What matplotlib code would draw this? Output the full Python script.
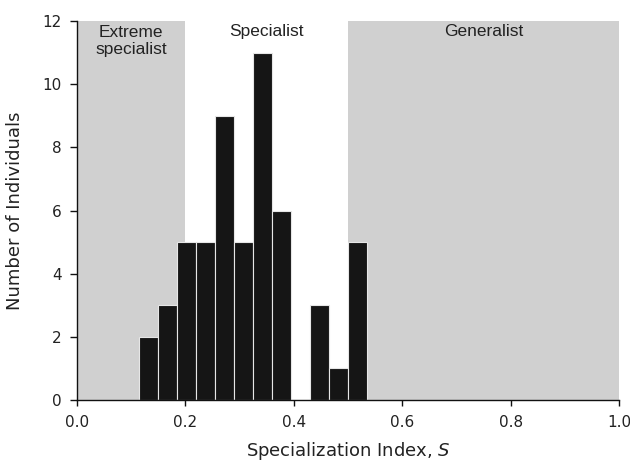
import matplotlib
matplotlib.use("Agg")
import matplotlib.pyplot as plt

# Data
bin_starts = [0.115, 0.150, 0.185, 0.220, 0.255, 0.290, 0.325, 0.360, 0.395, 0.430, 0.465, 0.500]
bin_width = 0.035
counts = [2, 3, 5, 5, 9, 5, 11, 6, 0, 3, 1, 5]
regions = [(0.0, 0.2), (0.5, 1.0)]
region_labels = ["Extreme\nspecialist", "Specialist", "Generalist"]
region_label_x = [0.10, 0.35, 0.75]
region_label_y = [11.38, 11.68, 11.68]
xticks = [0.0, 0.2, 0.4, 0.6, 0.8, 1.0]
yticks = [0, 2, 4, 6, 8, 10, 12]

fig = plt.figure(figsize=(6.3, 4.63), dpi=100)
ax = fig.add_axes([0.1222, 0.136, 0.8603, 0.8186])

for lo, hi in regions:
    ax.axvspan(lo, hi, ymin=0, ymax=1, color="#d0d0d0", lw=0, zorder=0)

ax.bar(bin_starts, counts, width=bin_width, align="edge", color="#151515",
       edgecolor="#e6e6e6", linewidth=0.8, zorder=2)

for lbl, x, y in zip(region_labels, region_label_x, region_label_y):
    ax.text(x, y, lbl, ha="center", va="center", fontsize=12.5,
            family="Liberation Sans", color="#222222", linespacing=1.15, zorder=3)

ax.set_xlim(0, 1)
ax.set_ylim(0, 12)
ax.set_xticks(xticks)
ax.set_xticklabels([f"{t:.1f}" for t in xticks])
ax.set_yticks(yticks)
ax.set_yticklabels([str(t) for t in yticks])
ax.tick_params(direction="out", width=1, labelsize=11, colors="#111111")
ax.tick_params(axis="x", length=4, pad=7)
ax.tick_params(axis="y", length=5, pad=6)
for lab in ax.get_xticklabels() + ax.get_yticklabels():
    lab.set_family("DejaVu Sans")
    lab.set_color("#222222")

for s in ["top", "right"]:
    ax.spines[s].set_visible(False)
for s in ["left", "bottom"]:
    ax.spines[s].set_linewidth(1.0)
    ax.spines[s].set_color("#111111")

ax.set_xlabel("Specialization Index, $\\mathit{S}$", fontsize=13, family="DejaVu Sans",
              color="#222222")
ax.set_ylabel("Number of Individuals", fontsize=13, family="DejaVu Sans", color="#222222")
ax.xaxis.set_label_coords(0.5, -0.106)
ax.yaxis.set_label_coords(-0.098, 0.5)

fig.savefig("out.png", dpi=100)
